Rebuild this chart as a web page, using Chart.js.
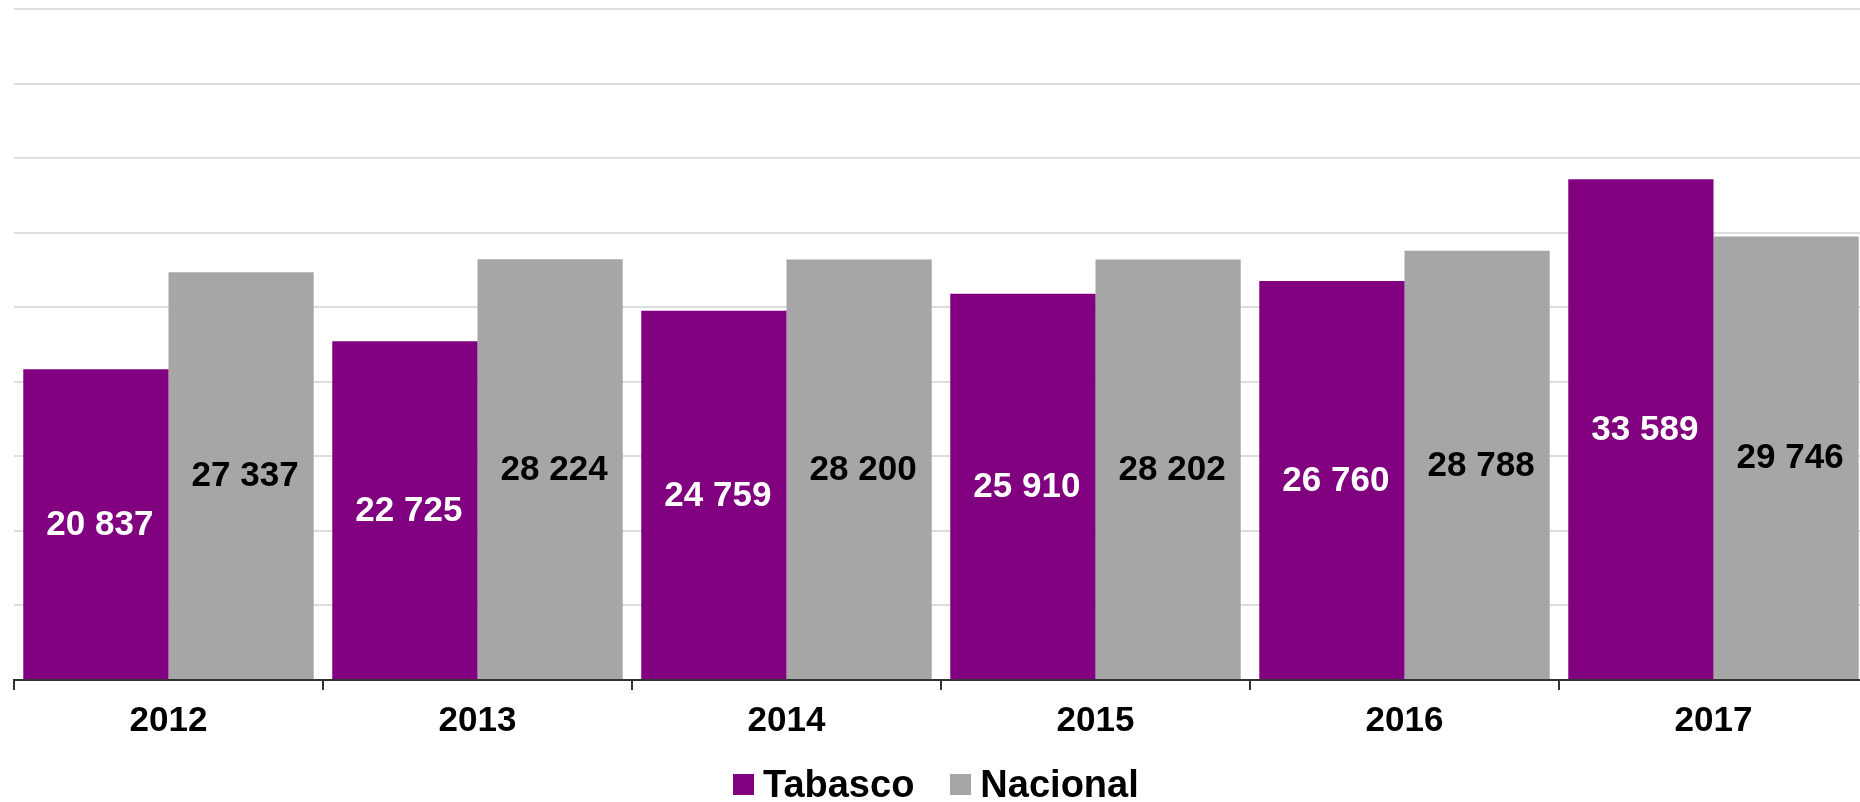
<!DOCTYPE html>
<html>
<head>
<meta charset="utf-8">
<script src="https://cdn.jsdelivr.net/npm/chart.js@4"></script>
<style>
  html, body { margin: 0; padding: 0; background: #ffffff; overflow: hidden; width: 1860px; height: 802px; }
  #wrap { position: absolute; left: 0; top: 0; width: 1868px; height: 802px; }
  #legend { position: absolute; left: 733px; top: 765px; display: flex; align-items: center;
            font-family: "Liberation Sans", Arial, sans-serif; font-weight: bold; font-size: 38px; line-height: 38px; color: #000; }
  .item { display: flex; align-items: center; margin-right: 36px; }
  .box { width: 21px; height: 21px; margin-right: 9px; }
</style>
</head>
<body>
<div id="wrap"><canvas id="c"></canvas></div>
<div id="legend"></div>
<script>
const categories = ["2012", "2013", "2014", "2015", "2016", "2017"];
const tabasco = [20837, 22725, 24759, 25910, 26760, 33589];
const nacional = [27337, 28224, 28200, 28202, 28788, 29746];
const seriesNames = ["Tabasco", "Nacional"];
const seriesColors = ["#800080", "#A6A6A6"];
const labelColors = ["#ffffff", "#000000"];

function fmt(v) { return String(v).replace(/\B(?=(\d{3})+(?!\d))/g, " "); }

const valueLabels = {
  id: "valueLabels",
  afterDatasetsDraw(chart) {
    const ctx = chart.ctx;
    ctx.save();
    ctx.font = "bold 35px 'Liberation Sans', Arial, sans-serif";
    ctx.textAlign = "center";
    ctx.textBaseline = "middle";
    chart.data.datasets.forEach((ds, di) => {
      const meta = chart.getDatasetMeta(di);
      meta.data.forEach((bar, i) => {
        const p = bar.getProps(["x", "y", "base"], true);
        ctx.fillStyle = labelColors[di];
        ctx.fillText(fmt(ds.data[i]), p.x + 4, (p.y + p.base) / 2 + 1);
      });
    });
    ctx.restore();
  }
};

const chart = new Chart(document.getElementById("c"), {
  type: "bar",
  data: {
    labels: categories,
    datasets: [
      { label: seriesNames[0], data: tabasco, backgroundColor: seriesColors[0] },
      { label: seriesNames[1], data: nacional, backgroundColor: seriesColors[1] }
    ]
  },
  options: {
    responsive: true,
    maintainAspectRatio: false,
    animation: false,
    events: [],
    categoryPercentage: 0.94,
    barPercentage: 1.0,
    layout: { padding: { left: 14, right: 0, top: 9, bottom: 50 } },
    plugins: { legend: { display: false }, tooltip: { enabled: false } },
    scales: {
      x: {
        grid: { display: true, drawOnChartArea: false, drawTicks: true, tickLength: 10, tickColor: "#333333", lineWidth: 2, offset: true },
        border: { display: true, color: "#333333", width: 2 },
        ticks: { color: "#000000", padding: 10, font: { family: "'Liberation Sans', Arial, sans-serif", size: 35, weight: "bold" } }
      },
      y: {
        min: 0, max: 45000,
        ticks: { display: false, stepSize: 5000 },
        grid: { color: "#dddddd", lineWidth: 2, drawTicks: false },
        border: { display: false }
      }
    }
  },
  plugins: [valueLabels]
});

const lg = document.getElementById("legend");
chart.data.datasets.forEach(ds => {
  const it = document.createElement("div");
  it.className = "item";
  const b = document.createElement("div");
  b.className = "box";
  b.style.background = ds.backgroundColor;
  const t = document.createElement("span");
  t.textContent = ds.label;
  it.appendChild(b); it.appendChild(t);
  lg.appendChild(it);
});
</script>
</body>
</html>
